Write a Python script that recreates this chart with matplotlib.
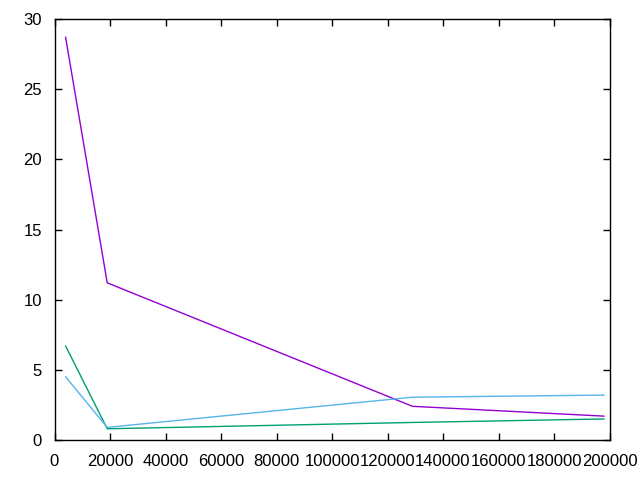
import matplotlib
matplotlib.use('Agg')
import matplotlib.pyplot as plt

x = [4000, 19000, 129000, 198000]
roxo = [28.7, 11.2, 2.4, 1.7]
verde = [6.7, 0.8, 1.25, 1.5]
azul = [4.5, 0.9, 3.05, 3.2]

plt.rcParams['font.family'] = 'Liberation Sans'
plt.rcParams['font.size'] = 12

fig = plt.figure(figsize=(6.4, 4.8), dpi=100)
ax = fig.add_axes([54.5 / 640, 40 / 480, 555 / 640, 421 / 480])

ax.plot(x, roxo, color='#9400d3', linewidth=1)
ax.plot(x, verde, color='#009e73', linewidth=1)
ax.plot(x, azul, color='#56b4e9', linewidth=1)

ax.set_xlim(0, 200000)
ax.set_ylim(0, 30)
ax.set_xticks(range(0, 200001, 20000))
ax.set_yticks(range(0, 31, 5))
ax.tick_params(direction='in', length=5, width=1, top=True, right=True)
ax.tick_params(axis='x', pad=10)
ax.tick_params(axis='y', pad=9)
for s in ax.spines.values():
    s.set_linewidth(1)

fig.savefig('out.png', dpi=100)
